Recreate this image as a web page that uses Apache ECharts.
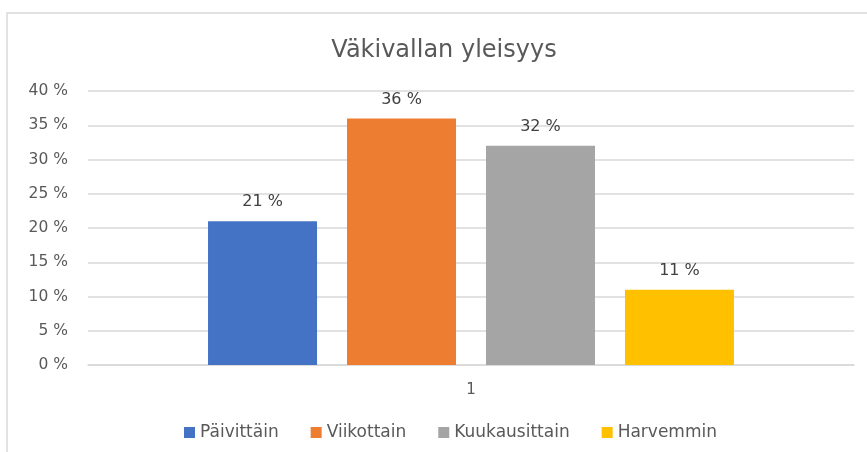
<!DOCTYPE html>
<html>
<head>
<meta charset="utf-8">
<script src="https://cdn.jsdelivr.net/npm/echarts@6/dist/echarts.min.js"></script>
<style>
  html, body { margin: 0; padding: 0; background: #fff; }
  #chart { width: 867px; height: 452px; }
</style>
</head>
<body>
<div id="chart"></div>
<script>
var categories = ['1'];
var seriesNames = ['Päivittäin', 'Viikottain', 'Kuukausittain', 'Harvemmin'];
var seriesValues = [21, 36, 32, 11];
var seriesColors = ['#4472C4', '#ED7D31', '#A5A5A5', '#FFC000'];

var myChart = echarts.init(document.getElementById('chart'));

var font = '"DejaVu Sans", sans-serif';

var series = seriesNames.map(function (name, i) {
    return {
        type: 'bar',
        name: name,
        data: [seriesValues[i]],
        barWidth: 109,
        barGap: '27.5%',
        itemStyle: { color: seriesColors[i] },
        label: {
            show: true,
            position: 'top',
            distance: 11,
            formatter: '{c} %',
            fontSize: 16,
            fontFamily: font,
            color: '#404040'
        }
    };
});

var option = {
    backgroundColor: '#fff',
    animation: false,
    graphic: [{
        type: 'rect',
        shape: { x: 7, y: 13, width: 880, height: 460 },
        style: { fill: 'none', stroke: '#D9D9D9', lineWidth: 1.5 },
        silent: true
    }],
    title: {
        text: 'Väkivallan yleisyys',
        left: 439,
        textAlign: 'center',
        top: 34,
        textStyle: { fontSize: 24, fontWeight: 'normal', color: '#595959', fontFamily: font }
    },
    legend: {
        top: 419,
        left: 179,
        icon: 'rect',
        itemWidth: 11,
        itemHeight: 11,
        itemGap: 32,
        textStyle: { fontSize: 17, color: '#595959', fontFamily: font }
    },
    grid: { left: 88, right: 13, top: 91, bottom: 87 },
    xAxis: {
        type: 'category',
        data: categories,
        axisLine: { lineStyle: { color: '#D9D9D9', width: 1.5 } },
        axisTick: { show: false },
        axisLabel: { fontSize: 15, color: '#595959', fontFamily: font, margin: 18 }
    },
    yAxis: {
        type: 'value',
        min: 0,
        max: 40,
        interval: 5,
        axisLine: { show: false },
        axisTick: { show: false },
        splitLine: { lineStyle: { color: '#D9D9D9', width: 1.5 } },
        axisLabel: { formatter: '{value} %', fontSize: 15.5, color: '#595959', fontFamily: font, margin: 20 }
    },
    series: series
};
myChart.setOption(option);
</script>
</body>
</html>
